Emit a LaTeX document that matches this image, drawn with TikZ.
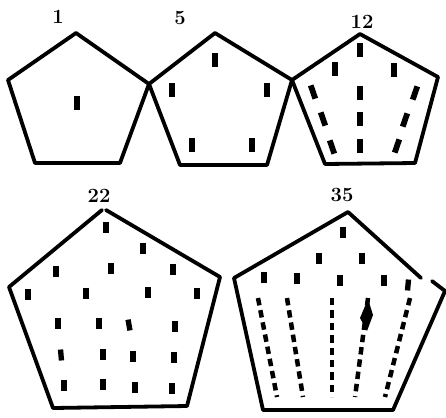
\documentclass[tikz,border=0pt]{standalone}
\usepackage{tikz}
\begin{document}
\begin{tikzpicture}[
    x=0.025cm, y=-0.025cm,
    side/.style={line width=2.7pt, line join=round, line cap=round},
    pebble/.style={line width=4.1pt},
    smallpebble/.style={line width=3.8pt},
    chain/.style={line width=3.2pt, dash pattern=on 5.3pt off 3.5pt},
    tally/.style={font=\Large\bfseries, inner sep=0pt}
]
\useasboundingbox (0,0) rectangle (446,417);
\draw[side] (76,33) -- (149,84) -- (120,163) -- (35,163) -- (8,80) -- cycle;
\draw[side] (215,33) -- (292,80) -- (267,165) -- (180,165) -- (149,84) -- cycle;
\draw[side] (360,34) -- (438,77) -- (415,163) -- (325,164) -- (292,80) -- cycle;
\draw[side] (106,210) -- (220,277) -- (187,406) -- (53,408) -- (9,287) -- (102,210);
\draw[side] (432,281) -- (445,291) -- (393,410) -- (263,410) -- (234,278) -- (348,212) -- (421,278);
\node[tally] (one) at (58,17) {1};
\node[tally] (five) at (180,18) {5};
\node[tally] (twelve) at (362,22) {12};
\node[tally] (twentytwo) at (99,196) {22};
\node[tally] (thirtyfive) at (342,195) {35};
\foreach \x/\y/\a in {77/103/90,
    215/60/90, 172/90/90, 267/90/90, 192/145/90, 252/145/90,
    360/50/90, 335/69/90, 394/70/90, 313/92/71, 323/119/71, 332/147/71,
    360/93/90, 360/119/90, 360/146/90, 415/93/109, 405/120/109, 397/146/109}
  \draw[pebble] (\x,\y) ++(\a+180:7) -- ++(\a:14);
\foreach \x/\y/\a in {106/227/90, 143/248/90,
    56/271/90, 111/268/90, 173/269/90,
    28/294/90, 86/293/90, 148/292/90, 197/293/90,
    58/323/90, 99/323/90, 129/325/80, 175/326/90,
    61/355/85, 103/354/90, 133/356/90, 174/357/90,
    64/385/90, 103/384/90, 135/387/90, 172/388/90,
    343/232/90, 319/258/90, 362/258/90,
    264/277/90, 297/278/90, 340/280/90, 384/280/90, 408/285/95}
  \draw[smallpebble] (\x,\y) ++(\a+180:5.5) -- ++(\a:11);
\draw[chain] (258,298) -- (277,397);
\draw[chain] (287,298) -- (303,397);
\draw[chain] (332,298) -- (332,397);
\draw[chain] (368,298) -- (355,397);
\draw[chain] (410,298) -- (385,397);
\fill (368,299) -- (373,315) -- (367,331) -- (360,318) -- cycle;
\end{tikzpicture}
\end{document}
